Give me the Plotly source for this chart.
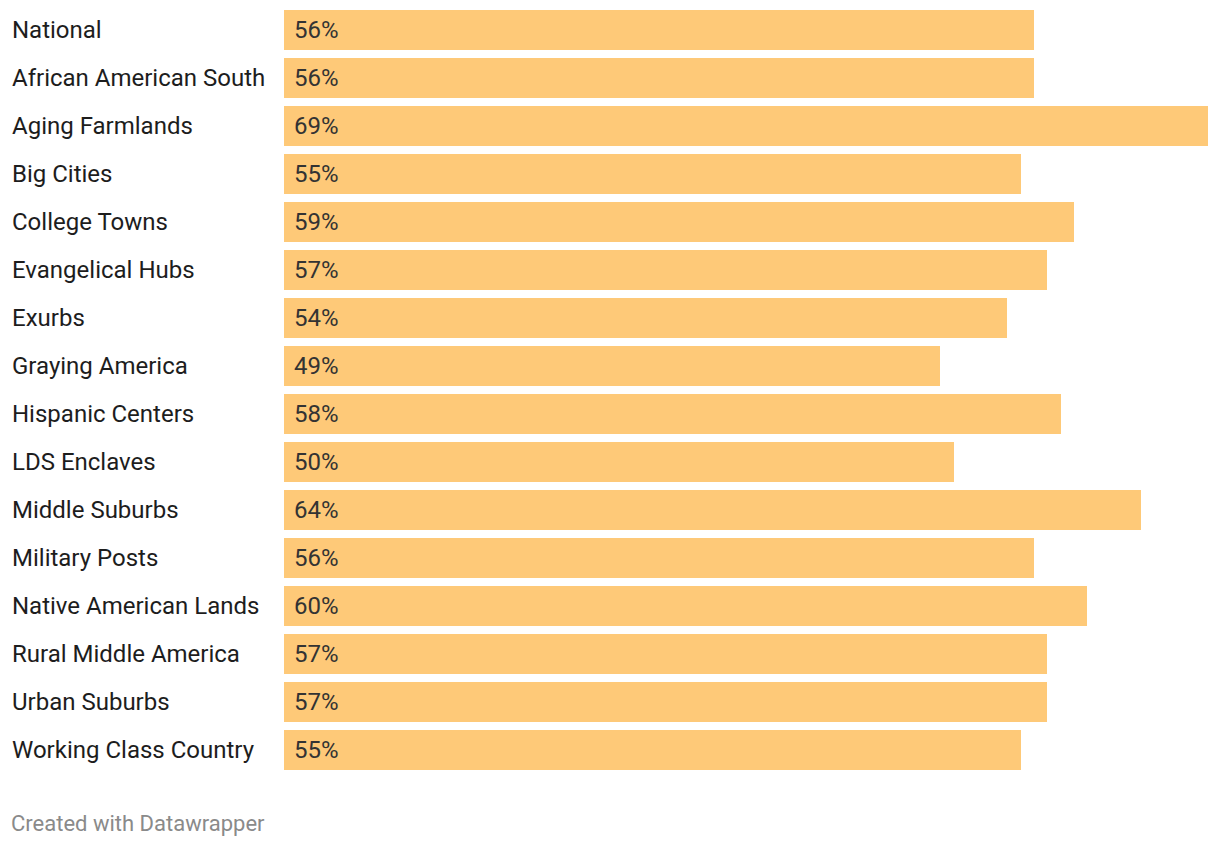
import plotly.graph_objects as go

categories = ["National", "African American South", "Aging Farmlands", "Big Cities",
              "College Towns", "Evangelical Hubs", "Exurbs", "Graying America",
              "Hispanic Centers", "LDS Enclaves", "Middle Suburbs", "Military Posts",
              "Native American Lands", "Rural Middle America", "Urban Suburbs",
              "Working Class Country"]
values = [56, 56, 69, 55, 59, 57, 54, 49, 58, 50, 64, 56, 60, 57, 57, 55]
value_labels = [f"{v}%" for v in values]

# page body has an 8px offset; compensate
OX, OY = 8, 8
W, H = 1220 - OX, 846 - OY
L, R, T, B = 284 - OX, 12, 0, 72
pw = W - L - R
ph = H - T - B

fig = go.Figure(go.Bar(
    y=categories, x=values, orientation="h",
    marker=dict(color="#fec978", line=dict(width=0)),
    width=40/48, hoverinfo="skip",
))

annotations = []
for c, lab in zip(categories, value_labels):
    annotations.append(dict(x=0, y=c, xref="x", yref="y", text=lab, showarrow=False,
                            xanchor="left", yanchor="middle", xshift=8,
                            font=dict(family="Roboto", size=24, color="#333333")))
    annotations.append(dict(x=(12 - OX - L) / pw, y=c, xref="paper", yref="y", text=c,
                            showarrow=False, xanchor="left", yanchor="middle", xshift=-2,
                            font=dict(family="Roboto", size=24, color="#1d1d1d")))
annotations.append(dict(x=(11 - OX - L) / pw, y=-((823 - OY) - (H - B)) / ph,
                        xref="paper", yref="paper",
                        text="Created with Datawrapper", showarrow=False, xanchor="left",
                        yanchor="middle", xshift=-2,
                        font=dict(family="Roboto", size=22, color="#8a8a8a")))

fig.update_layout(
    width=W, height=H,
    margin=dict(l=L, r=R, t=T, b=B, pad=0),
    paper_bgcolor="white", plot_bgcolor="white",
    showlegend=False,
    xaxis=dict(range=[0, 69], visible=False, fixedrange=True),
    yaxis=dict(range=[15.5, -0.5 + 2 / 48], visible=False, fixedrange=True),
    annotations=annotations,
    bargap=0,
)

fig.write_html("out.html")
